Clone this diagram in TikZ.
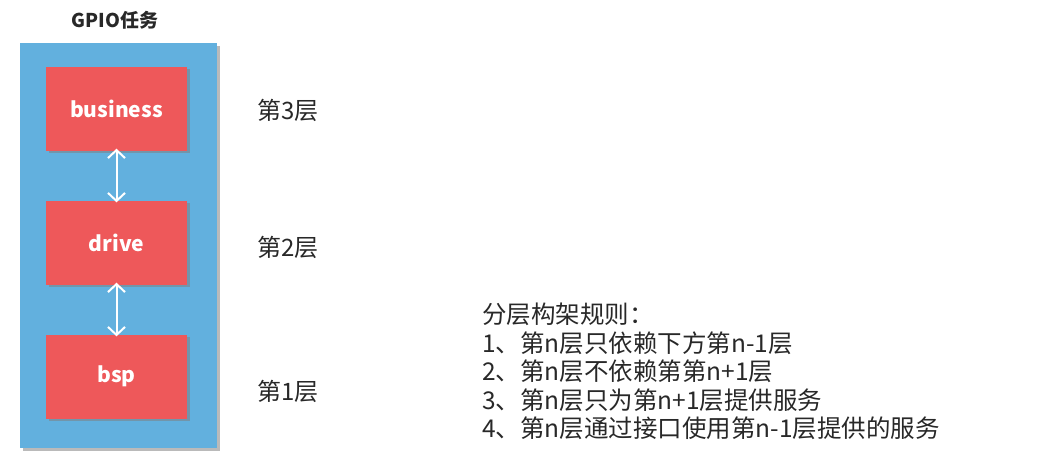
\documentclass[tikz,border=0pt]{standalone}
\usepackage{fontspec}
\setmainfont{Noto Sans CJK SC}
\usetikzlibrary{arrows.meta,shadows}
\definecolor{panelblue}{RGB}{98,176,222}
\definecolor{boxred}{RGB}{238,88,90}
\definecolor{txtdark}{RGB}{40,40,40}
\begin{document}
\begin{tikzpicture}[x=1pt,y=-1pt,
  panel/.style={fill=panelblue,draw=none,drop shadow={shadow xshift=3pt,shadow yshift=-3pt,fill=black!45,opacity=0.6}},
  layerbox/.style={fill=boxred,draw=none,minimum width=141pt,minimum height=84pt,inner sep=0pt,
     font=\fontsize{21}{25}\selectfont\bfseries,text=white,
     drop shadow={shadow xshift=2.5pt,shadow yshift=-2.5pt,fill=black!50,opacity=0.55}},
  layerlabel/.style={font=\fontsize{24}{28}\selectfont,text=txtdark,anchor=west,inner sep=0pt},
  link/.style={draw=white,line width=2pt,{Straight Barb[length=8pt,width=17pt]}-{Straight Barb[length=8pt,width=17pt]}}
]
\useasboundingbox (0,0) rectangle (1039,475);
\node[panel,minimum width=197pt,minimum height=405pt,inner sep=0pt] (panel) at (118.5,245.5) {};
\node[font=\fontsize{19}{22}\selectfont\bfseries,text=txtdark] (title) at (115,20) {GPIO任务};
\node[layerbox] (business) at (116.5,108.5) {business};
\node[layerbox] (drive) at (116.5,242.5) {drive};
\node[layerbox] (bsp) at (116.5,376.5) {bsp};
\draw[link] ([yshift=2pt]business.south) -- ([yshift=-2pt]drive.north);
\draw[link] ([yshift=2pt]drive.south) -- ([yshift=-2pt]bsp.north);
\node[layerlabel] (l3) at (257,110) {第3层};
\node[layerlabel] (l2) at (257,247) {第2层};
\node[layerlabel] (l1) at (257,391) {第1层};
\node[font=\fontsize{24.5}{28.5}\selectfont,text=txtdark,align=left,anchor=north west,inner sep=0pt] (rules) at (482,303) {分层构架规则：\\1、第n层只依赖下方第n-1层\\2、第n层不依赖第第n+1层\\3、第n层只为第n+1层提供服务\\4、第n层通过接口使用第n-1层提供的服务};
\end{tikzpicture}
\end{document}
